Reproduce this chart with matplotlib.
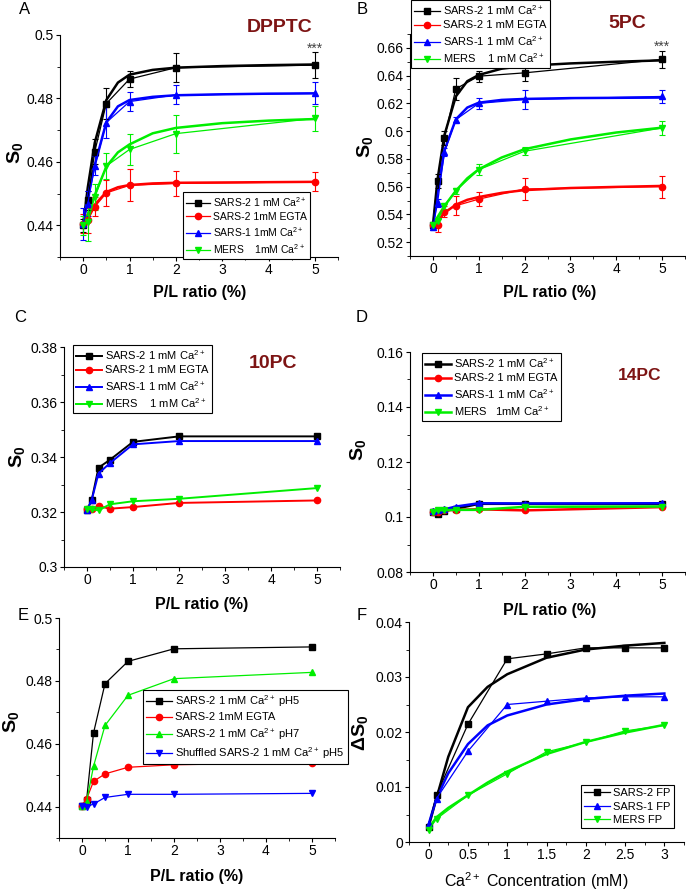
import matplotlib
matplotlib.use("Agg")
import matplotlib.pyplot as plt
from matplotlib.ticker import MultipleLocator, AutoMinorLocator, FuncFormatter

plt.rcParams['font.family'] = ['Liberation Sans', 'DejaVu Sans']
plt.rcParams['mathtext.fontset'] = 'custom'
plt.rcParams['mathtext.rm'] = 'Liberation Sans'
plt.rcParams['mathtext.it'] = 'Liberation Sans:italic'
plt.rcParams['mathtext.bf'] = 'Liberation Sans:bold'

W, H = 686, 894

# ---- data ----
pl_x = [0, 0.1, 0.25, 0.5, 1, 2, 5]
fit_x = [0, 0.1, 0.25, 0.5, 0.75, 1, 1.5, 2, 3, 4, 5]
ca_x = [0, 0.1, 0.5, 1, 1.5, 2, 2.5, 3]
ca_fit_x = [0, 0.1, 0.25, 0.5, 0.75, 1, 1.5, 2, 2.5, 3]

# A: DPPTC
a_sars2 = [0.4400, 0.4479, 0.4632, 0.4784, 0.4861, 0.4897, 0.4905]
a_sars2_err = [0.002, 0.003, 0.004, 0.0048, 0.0025, 0.0045, 0.004]
a_sars2_fit = [0.440, 0.452, 0.466, 0.4795, 0.485, 0.4875, 0.489, 0.4897, 0.4902, 0.4905, 0.4907]
a_egta = [0.4405, 0.4416, 0.4458, 0.4502, 0.4526, 0.4532, 0.4537]
a_egta_err = [0.003, 0.004, 0.003, 0.004, 0.005, 0.004, 0.003]
a_egta_fit = [0.4405, 0.4425, 0.4465, 0.4505, 0.452, 0.4527, 0.4532, 0.4534, 0.4535, 0.4536, 0.4537]
a_sars1 = [0.4405, 0.4468, 0.4587, 0.4724, 0.4790, 0.4811, 0.4816]
a_sars1_err = [0.005, 0.004, 0.003, 0.005, 0.003, 0.003, 0.0035]
a_sars1_fit = [0.4405, 0.449, 0.459, 0.4725, 0.4775, 0.4795, 0.4805, 0.481, 0.4813, 0.4815, 0.4816]
a_mers = [0.4400, 0.4410, 0.4489, 0.4587, 0.4639, 0.4689, 0.4737]
a_mers_err = [0.003, 0.006, 0.004, 0.004, 0.005, 0.006, 0.004]
a_mers_fit = [0.440, 0.4435, 0.4495, 0.4585, 0.463, 0.4655, 0.469, 0.4707, 0.4722, 0.473, 0.4735]

# B: 5PC
b_sars2 = [0.532, 0.564, 0.595, 0.6305, 0.6396, 0.642, 0.6517]
b_sars2_err = [0.002, 0.005, 0.005, 0.008, 0.004, 0.006, 0.006]
b_sars2_fit = [0.532, 0.565, 0.597, 0.625, 0.636, 0.6405, 0.645, 0.647, 0.6488, 0.650, 0.651]
b_egta = [0.532, 0.5325, 0.542, 0.5462, 0.551, 0.5583, 0.560]
b_egta_err = [0.002, 0.005, 0.004, 0.007, 0.005, 0.008, 0.008]
b_egta_fit = [0.532, 0.535, 0.541, 0.547, 0.5505, 0.5525, 0.5555, 0.5575, 0.559, 0.5598, 0.5605]
b_sars1 = [0.531, 0.548, 0.585, 0.6083, 0.620, 0.6228, 0.625]
b_sars1_err = [0.002, 0.003, 0.003, 0.002, 0.004, 0.007, 0.005]
b_sars1_fit = [0.531, 0.556, 0.586, 0.6085, 0.617, 0.6205, 0.6225, 0.6232, 0.6238, 0.624, 0.6242]
b_mers = [0.532, 0.535, 0.546, 0.557, 0.5722, 0.5855, 0.6023]
b_mers_err = [0.002, 0.002, 0.002, 0.002, 0.004, 0.003, 0.005]
b_mers_fit = [0.532, 0.538, 0.546, 0.557, 0.566, 0.5725, 0.581, 0.587, 0.594, 0.599, 0.6025]

# C: 10PC
c_sars2 = [0.3208, 0.3242, 0.3361, 0.3390, 0.3455, 0.3475, 0.3475]
c_egta = [0.3210, 0.3210, 0.3221, 0.3212, 0.3218, 0.3233, 0.3242]
c_sars1 = [0.3208, 0.3242, 0.3340, 0.3378, 0.3446, 0.3458, 0.3458]
c_mers = [0.3210, 0.3210, 0.3206, 0.3228, 0.3239, 0.3248, 0.3287]

# D: 14PC
d_sars2 = [0.1020, 0.1012, 0.1022, 0.1030, 0.1048, 0.1048, 0.1047]
d_egta = [0.1020, 0.1018, 0.1024, 0.1026, 0.1028, 0.1024, 0.1036]
d_sars1 = [0.1021, 0.1025, 0.1028, 0.1038, 0.1050, 0.1049, 0.1050]
d_mers = [0.1020, 0.1025, 0.1025, 0.1026, 0.1026, 0.1037, 0.1038]

# E: DPPTC, pH
e_ph5 = [0.4403, 0.4421, 0.4634, 0.4791, 0.4862, 0.4902, 0.4908]
e_egta = [0.4403, 0.4424, 0.4480, 0.4504, 0.4525, 0.4533, 0.4540]
e_ph7 = [0.4401, 0.4416, 0.4528, 0.4658, 0.4754, 0.4807, 0.4827]
e_shuffled = [0.4401, 0.4400, 0.4408, 0.4429, 0.4439, 0.4439, 0.4442]

# F: Ca2+ titration
f_sars2 = [0.0028, 0.0086, 0.0214, 0.0333, 0.0342, 0.0353, 0.0353, 0.0353]
f_sars2_fit = [0.0028, 0.008, 0.0155, 0.0245, 0.0282, 0.0305, 0.0335, 0.035, 0.0357, 0.0362]
f_sars1 = [0.0032, 0.0079, 0.0165, 0.0250, 0.0256, 0.0262, 0.0264, 0.0264]
f_sars1_fit = [0.0032, 0.008, 0.0125, 0.0178, 0.0212, 0.023, 0.025, 0.026, 0.0266, 0.027]
f_mers = [0.0022, 0.0042, 0.0085, 0.0124, 0.0164, 0.0181, 0.0202, 0.0212]
f_mers_fit = [0.0025, 0.0045, 0.0062, 0.0085, 0.0108, 0.0128, 0.016, 0.0182, 0.0199, 0.0213]

K, R, B, G = 'black', '#ff0000', '#0000ff', '#00ee00'
DARKRED = '#7d1414'

fig = plt.figure(figsize=(W / 100, H / 100), dpi=100)
num = FuncFormatter(lambda v, p: f'{v:g}')


def fx(px):
    return px / W


def fy(py):
    return 1 - py / H


def make_axes(left, top, right, bottom, xlim, ylim, xmaj, ymaj):
    ax = fig.add_axes([fx(left), fy(bottom), (right - left) / W, (bottom - top) / H])
    ax.set_xlim(*xlim)
    ax.set_ylim(*ylim)
    ax.spines['top'].set_visible(False)
    ax.spines['right'].set_visible(False)
    ax.xaxis.set_major_locator(MultipleLocator(xmaj))
    ax.yaxis.set_major_locator(MultipleLocator(ymaj))
    ax.xaxis.set_minor_locator(AutoMinorLocator(2))
    ax.yaxis.set_minor_locator(AutoMinorLocator(2))
    ax.xaxis.set_major_formatter(num)
    ax.yaxis.set_major_formatter(num)
    ax.tick_params(which='major', direction='out', length=3, width=0.8, pad=1.5, labelsize=10)
    ax.tick_params(which='minor', direction='out', length=2, width=0.6)
    return ax


def ylabel(ax, text, right_px, cy_px, size=14):
    ax.set_ylabel(text, fontsize=size)
    ax.yaxis.set_label_coords(fx(right_px), fy(cy_px), transform=fig.transFigure)


def legend(ax, left_px, top_px, size=7.5):
    leg = ax.legend(loc='upper left', bbox_to_anchor=(fx(left_px), fy(top_px)),
                    bbox_transform=fig.transFigure, borderaxespad=0, fontsize=size,
                    fancybox=False, framealpha=1, edgecolor='black',
                    handlelength=2.3, handletextpad=0.3, labelspacing=0.3,
                    borderpad=0.3)
    leg.get_frame().set_linewidth(0.8)
    leg.set_zorder(10)
    return leg


def err_series(ax, y, err, fit, color, marker, label):
    ax.errorbar(pl_x, y, yerr=err, color=color, fmt='none', capsize=2.5,
                elinewidth=0.8, capthick=0.8, zorder=3)
    ax.plot(pl_x, y, color=color, marker=marker, ms=4.5, lw=0.9, label=label, zorder=4)
    ax.plot(fit_x, fit, color=color, lw=1.8, zorder=2)


ca = r'Ca$^{2+}$'

# ---- A ----
axA = make_axes(60, 35, 338, 257, (-0.5, 5.5), (0.43, 0.5), 1, 0.02)
err_series(axA, a_sars2, a_sars2_err, a_sars2_fit, K, 's', 'SARS-2 1 mM ' + ca)
err_series(axA, a_egta, a_egta_err, a_egta_fit, R, 'o', 'SARS-2 1mM EGTA')
err_series(axA, a_sars1, a_sars1_err, a_sars1_fit, B, '^', 'SARS-1 1mM ' + ca)
err_series(axA, a_mers, a_mers_err, a_mers_fit, G, 'v', 'MERS    1mM ' + ca)
legend(axA, 183, 192)
ylabel(axA, r'$\mathbf{S_0}$', 25, 153)
axA.text(5, 0.4957, '***', ha='center', va='center', fontsize=10, color='#444444')

# ---- B ----
axB = make_axes(410, 34, 685, 256, (-0.5, 5.5), (0.51, 0.67), 1, 0.02)
err_series(axB, b_sars2, b_sars2_err, b_sars2_fit, K, 's', 'SARS-2 1 mM ' + ca)
err_series(axB, b_egta, b_egta_err, b_egta_fit, R, 'o', 'SARS-2 1 mM EGTA')
err_series(axB, b_sars1, b_sars1_err, b_sars1_fit, B, '^', 'SARS-1 1 mM ' + ca)
err_series(axB, b_mers, b_mers_err, b_mers_fit, G, 'v', 'MERS    1 mM ' + ca)
legend(axB, 411, 0, size=8)
ylabel(axB, r'$\mathbf{S_0}$', 375, 147)
axB.text(5, 0.6605, '***', ha='center', va='center', fontsize=10, color='#444444')

# ---- C ----
axC = make_axes(64, 347, 340, 567, (-0.5, 5.5), (0.3, 0.38), 1, 0.02)
for y, c, m, lab in [(c_sars2, K, 's', 'SARS-2 1 mM ' + ca),
                     (c_egta, R, 'o', 'SARS-2 1 mM EGTA'),
                     (c_sars1, B, '^', 'SARS-1 1 mM ' + ca),
                     (c_mers, G, 'v', 'MERS    1 mM ' + ca)]:
    axC.plot(pl_x, y, color=c, marker=m, ms=4.5, lw=1.4, label=lab)
legend(axC, 73, 345, size=8)
ylabel(axC, r'$\mathbf{S_0}$', 27, 457)

# ---- D ----
axD = make_axes(410, 352, 685, 572, (-0.5, 5.5), (0.08, 0.16), 1, 0.02)
for y, c, m, lab in [(d_sars2, K, 's', 'SARS-2 1 mM ' + ca),
                     (d_egta, R, 'o', 'SARS-2 1 mM EGTA'),
                     (d_sars1, B, '^', 'SARS-1 1 mM ' + ca),
                     (d_mers, G, 'v', 'MERS   1mM ' + ca)]:
    axD.plot(pl_x, y, color=c, marker=m, ms=4.5, lw=1.8, label=lab)
legend(axD, 422, 353, size=8)
ylabel(axD, r'$\mathbf{S_0}$', 368, 450)

# ---- E ----
axE = make_axes(59, 618, 335, 838, (-0.5, 5.5), (0.43, 0.5), 1, 0.02)
for y, c, m, lab in [(e_ph5, K, 's', 'SARS-2 1 mM ' + ca + ' pH5'),
                     (e_egta, R, 'o', 'SARS-2 1mM EGTA'),
                     (e_ph7, G, '^', 'SARS-2 1 mM ' + ca + ' pH7'),
                     (e_shuffled, B, 'v', 'Shuffled SARS-2 1 mM ' + ca + ' pH5')]:
    axE.plot(pl_x, y, color=c, marker=m, ms=4.5, lw=0.9, label=lab)
legend(axE, 143, 690, size=8)
ylabel(axE, r'$\mathbf{S_0}$', 21, 722)

# ---- F ----
axF = make_axes(409, 622, 684, 842, (-0.25, 3.25), (0, 0.04), 0.5, 0.01)
for y, fit, c, m, lab in [(f_sars2, f_sars2_fit, K, 's', 'SARS-2 FP'),
                          (f_sars1, f_sars1_fit, B, '^', 'SARS-1 FP'),
                          (f_mers, f_mers_fit, G, 'v', 'MERS FP')]:
    axF.plot(ca_x, y, color=c, marker=m, ms=4.5, lw=0.9, label=lab, zorder=3)
    axF.plot(ca_fit_x, fit, color=c, lw=1.8, zorder=2)
legend(axF, 581, 785, size=8)
ylabel(axF, r'$\mathbf{\Delta S_0}$', 370, 733)

# ---- x labels, titles, panel letters ----
for cx, cy in [(200, 292), (550, 293), (202, 605), (550, 610), (197, 877)]:
    fig.text(fx(cx), fy(cy), 'P/L ratio (%)', ha='center', va='center',
             fontsize=11.5, fontweight='bold')
fig.text(fx(536), fy(881), 'Ca$^{2+}$ Concentration (mM)', ha='center', va='center',
         fontsize=11.5)

for txt, cx, cy, s in [('DPPTC', 280, 27, 14), ('5PC', 627, 23, 14),
                       ('10PC', 273, 363, 14), ('14PC', 640, 376, 12.5)]:
    fig.text(fx(cx), fy(cy), txt, ha='center', va='center', fontsize=s,
             fontweight='bold', color=DARKRED)

for txt, cx, cy in [('A', 25, 10), ('B', 362, 10), ('C', 20, 318),
                    ('D', 362, 318), ('E', 23, 615), ('F', 362, 616)]:
    fig.text(fx(cx), fy(cy), txt, ha='center', va='center', fontsize=12)

fig.savefig('out.png', dpi=100)
